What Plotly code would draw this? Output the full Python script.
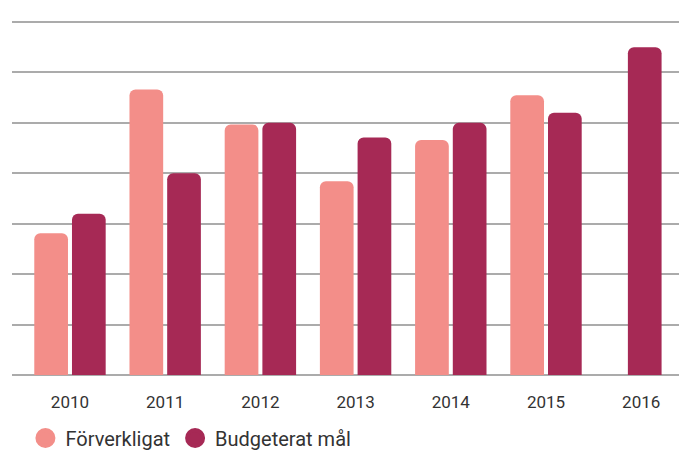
import plotly.graph_objects as go

years = ["2010", "2011", "2012", "2013", "2014", "2015", "2016"]
forverkligat = [2.81, 5.66, 4.97, 3.84, 4.66, 5.55, None]
budgeterat = [3.20, 4.00, 5.00, 4.71, 5.00, 5.20, 6.50]

C_F = "#F38E89"
C_B = "#A62955"
FONT = "Roboto, Liberation Sans, sans-serif"

bar_w = 0.354
fig = go.Figure()
fig.add_trace(go.Bar(
    x=years, y=forverkligat, name="Förverkligat",
    marker=dict(color=C_F, cornerradius=6, line=dict(width=0)),
    width=bar_w, offset=-0.375, showlegend=False,
))
fig.add_trace(go.Bar(
    x=years, y=budgeterat, name="Budgeterat mål",
    marker=dict(color=C_B, cornerradius=6, line=dict(width=0)),
    width=bar_w, offset=[0.021] * 6 + [-0.14], showlegend=False,
))
# legend entries with circular symbols
for name, col in [("Förverkligat", C_F), ("Budgeterat mål", C_B)]:
    fig.add_trace(go.Scatter(
        x=[None], y=[None], mode="markers", name=name,
        marker=dict(symbol="circle", size=16, color=col, line=dict(color=col, width=4)),
    ))

fig.update_layout(
    width=687, height=456,
    margin=dict(l=12, r=8, t=20, b=81, autoexpand=False),
    paper_bgcolor="white", plot_bgcolor="white",
    barmode="overlay",
    font=dict(family=FONT, color="#333333"),
    showlegend=True,
    legend=dict(
        orientation="h", xref="container", yref="container",
        x=0.037, y=0.0395, xanchor="left", yanchor="middle",
        font=dict(size=20, family=FONT, color="#333333"),
        itemsizing="trace", bgcolor="rgba(0,0,0,0)",
        traceorder="normal",
    ),
    xaxis=dict(
        type="category", range=[-0.609, 6.397],
        showgrid=False, showline=False, zeroline=False,
        ticks="", ticklabelstandoff=15,
        tickfont=dict(size=17, family=FONT, color="#333333"),
    ),
    yaxis=dict(
        range=[0, 7.04], dtick=1, tick0=0,
        showticklabels=False, showgrid=True,
        gridcolor="#ABABAB", gridwidth=1.5,
        zeroline=True, zerolinecolor="#ABABAB", zerolinewidth=1.5,
        showline=False, ticks="",
    ),
)

fig.write_html(
    "out.html",
    config={"displayModeBar": False},
    post_script="document.body.style.margin='0';document.body.style.overflow='hidden';",
)
